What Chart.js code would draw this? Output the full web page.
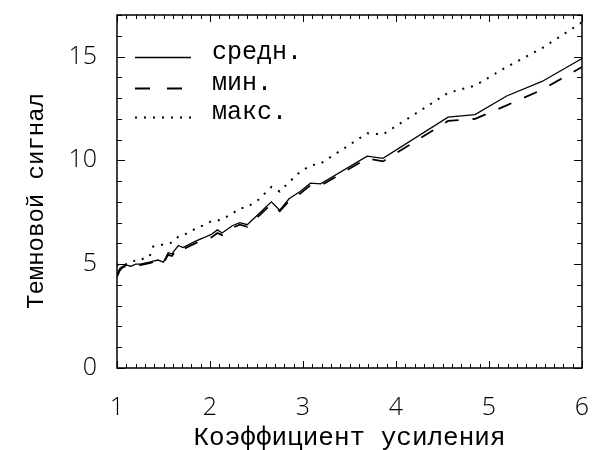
<!DOCTYPE html>
<html>
<head>
<meta charset="utf-8">
<script src="https://cdn.jsdelivr.net/npm/chart.js@4.4.0/dist/chart.umd.min.js"></script>
<style>
  html, body { margin: 0; padding: 0; background: #fff; }
  #chart { display: block; }
</style>
</head>
<body>
<canvas id="chart" width="592" height="450"></canvas>
<script>
// gain coefficient (x) and dark signal (y)
const gain = [1.0, 1.03, 1.06, 1.1, 1.15, 1.2, 1.25, 1.3, 1.35, 1.39, 1.44, 1.5, 1.55, 1.59, 1.66, 1.71,
  1.84, 1.92, 2.02, 2.08, 2.13, 2.24, 2.32, 2.4, 2.52, 2.66, 2.75, 2.85, 2.97, 3.08, 3.19,
  3.69, 3.86, 4.56, 4.85, 5.19, 5.57, 6.0];
const meanSignal = [4.5, 4.8, 4.9, 4.95, 4.9, 5.0, 5.0, 5.05, 5.1, 5.15, 5.2, 5.1, 5.55, 5.5, 5.9, 5.8,
  6.1, 6.25, 6.45, 6.65, 6.5, 6.85, 7.0, 6.9, 7.4, 8.0, 7.6, 8.15, 8.5, 8.9, 8.87,
  10.2, 10.1, 12.08, 12.2, 13.1, 13.8, 14.9];
const minSignal = [4.4, 4.7, 4.85, 4.9, 4.88, 4.95, 4.95, 5.0, 5.05, 5.1, 5.15, 5.05, 5.45, 5.4, 5.8, 5.72,
  6.0, 6.15, 6.3, 6.5, 6.4, 6.75, 6.9, 6.8, 7.3, 7.9, 7.55, 8.05, 8.4, 8.8, 8.78,
  10.1, 9.95, 11.9, 12.0, 12.65, 13.4, 14.5];
const maxSignal = [5.0, 4.9, 4.95, 5.0, 5.05, 5.2, 5.2, 5.3, 5.36, 5.85, 5.88, 5.95, 6.0, 6.04, 6.33, 6.38,
  6.7, 6.86, 7.08, 7.1, 7.15, 7.44, 7.68, 7.75, 8.1, 8.72, 8.5, 8.95, 9.45, 9.75, 9.85,
  11.3, 11.25, 13.25, 13.6, 14.5, 15.4, 16.65];

const seriesLabels = ['средн.', 'мин.', 'макс.'];
const xTickValues = [1, 2, 3, 4, 5, 6];
const yTickValues = [0, 5, 10, 15];
const xTitle = 'Коэффициент усиления';
const yTitle = 'Темновой сигнал';

const tickFont = { family: 'Open Sans', size: 25, weight: '300' };
const monoFont = '"Liberation Mono", "DejaVu Sans Mono", monospace';

const toPoints = ys => gain.map((g, i) => ({ x: g, y: ys[i] }));

// chart.js reserves room for edge labels; the layout padding already does that
const noScalePadding = s => {
  s.paddingTop = 0; s.paddingBottom = 0; s.paddingLeft = 0; s.paddingRight = 0;
};

// frame, inward ticks (major + minor) on all four sides, axis titles, legend
const decorations = {
  id: 'decorations',
  afterDatasetsDraw(chart) {
    const { ctx, chartArea: a, scales: { x, y } } = chart;
    ctx.save();
    ctx.strokeStyle = '#000';
    ctx.lineWidth = 1.5;
    ctx.strokeRect(a.left, a.top, a.right - a.left, a.bottom - a.top);

    ctx.lineWidth = 1;
    ctx.beginPath();
    for (let i = 0; i <= 50; i++) {
      const px = Math.round(x.getPixelForValue(1 + i / 10)) + 0.5;
      const len = i % 10 === 0 ? 7 : 4;
      ctx.moveTo(px, a.bottom); ctx.lineTo(px, a.bottom - len);
      ctx.moveTo(px, a.top); ctx.lineTo(px, a.top + len);
    }
    for (let v = 0; v <= 17; v++) {
      const py = Math.round(y.getPixelForValue(v)) + 0.5;
      const len = v % 5 === 0 ? 8 : 5;
      ctx.moveTo(a.left, py); ctx.lineTo(a.left + len, py);
      ctx.moveTo(a.right, py); ctx.lineTo(a.right - len, py);
    }
    ctx.stroke();

    // axis titles
    ctx.fillStyle = '#000';
    ctx.textAlign = 'center';
    ctx.textBaseline = 'alphabetic';
    ctx.font = '26px ' + monoFont;
    ctx.fillText(xTitle, (a.left + a.right) / 2, 445);
    ctx.save();
    ctx.translate(43, 201);
    ctx.rotate(-Math.PI / 2);
    ctx.font = '24px ' + monoFont;
    ctx.fillText(yTitle, 0, 0);
    ctx.restore();

    // legend
    const rows = [57, 88, 117];
    ctx.font = '25px ' + monoFont;
    ctx.textAlign = 'left';
    chart.data.datasets.forEach((ds, i) => {
      ctx.beginPath();
      ctx.lineWidth = ds.borderWidth;
      ctx.setLineDash(ds.legendDash || []);
      ctx.moveTo(135, rows[i] + 0.5);
      ctx.lineTo(191, rows[i] + 0.5);
      ctx.stroke();
      ctx.setLineDash([]);
      ctx.fillText(ds.label, 212, rows[i] + 2);
    });
    ctx.restore();
  }
};

new Chart(document.getElementById('chart'), {
  type: 'line',
  data: {
    datasets: [
      {
        label: seriesLabels[0],
        data: toPoints(meanSignal),
        borderColor: '#000',
        borderWidth: 1.3,
        pointRadius: 0,
        fill: false
      },
      {
        label: seriesLabels[1],
        data: toPoints(minSignal),
        borderColor: '#000',
        borderWidth: 1.8,
        borderDash: [14, 14],
        legendDash: [15, 17],
        pointRadius: 0,
        fill: false
      },
      {
        label: seriesLabels[2],
        data: toPoints(maxSignal),
        borderColor: '#000',
        borderWidth: 2,
        borderDash: [2, 7],
        legendDash: [2, 7],
        pointRadius: 0,
        fill: false
      }
    ]
  },
  options: {
    responsive: false,
    animation: false,
    layout: { padding: { top: 15, right: 10, left: 0, bottom: 0 } },
    plugins: { legend: { display: false }, tooltip: { enabled: false } },
    scales: {
      x: {
        type: 'linear',
        min: 1,
        max: 6,
        afterFit(s) { s.height = 82; noScalePadding(s); },
        afterBuildTicks(s) { s.ticks = xTickValues.map(v => ({ value: v })); },
        grid: { display: false, drawTicks: false },
        border: { display: false },
        ticks: { font: tickFont, color: '#000', padding: 25, maxRotation: 0, autoSkip: false }
      },
      y: {
        type: 'linear',
        min: 0,
        max: 17,
        afterFit(s) { s.width = 117; noScalePadding(s); },
        afterBuildTicks(s) { s.ticks = yTickValues.map(v => ({ value: v })); },
        grid: { display: false, drawTicks: false },
        border: { display: false },
        ticks: { font: tickFont, color: '#000', padding: 20, autoSkip: false }
      }
    }
  },
  plugins: [decorations]
});
</script>
</body>
</html>
